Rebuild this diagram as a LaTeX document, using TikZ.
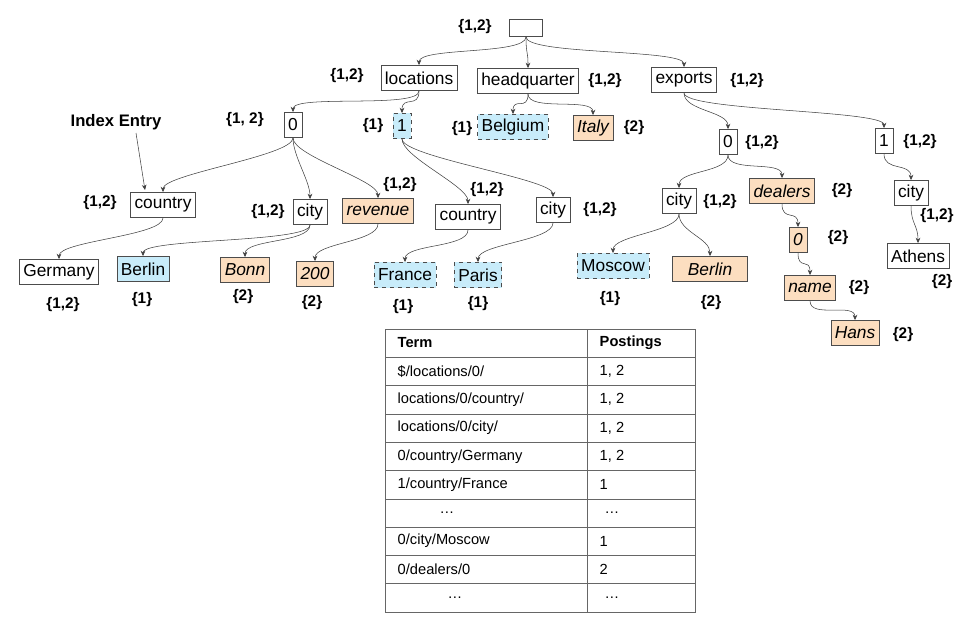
\documentclass[tikz,border=0pt]{standalone}
\usepackage{fontspec}
\setmainfont{Liberation Sans}
\usetikzlibrary{arrows.meta}
\definecolor{cy}{RGB}{200,236,250}
\definecolor{or}{RGB}{252,222,192}
\begin{document}
\begin{tikzpicture}[x=0.75pt,y=-0.75pt,
  font=\fontsize{13}{15}\selectfont,
  box/.style={draw=black!70,fill=white,inner xsep=3pt,inner ysep=2pt,minimum height=19pt,anchor=center},
  cbox/.style={box,fill=cy,dashed},
  cboxs/.style={box,fill=cy},
  obox/.style={box,fill=or,font=\fontsize{13}{15}\selectfont\itshape},
  lab/.style={font=\fontsize{11.5}{13}\selectfont\bfseries},
  cell/.style={anchor=west,font=\fontsize{11}{13}\selectfont},
  edge/.style={draw=black!75,-{Stealth[length=4pt,width=3.5pt]}}]
\useasboundingbox (0,0) rectangle (973,639);
\newcommand\cedge[2]{\draw[edge] (#1.south) .. controls +(0,18) and +(0,-18) .. (#2.north);}
% nodes
\node[box,minimum width=25pt,minimum height=13pt] (root) at (526,28) {};
\node[box] (loc) at (419,78) {locations};
\node[box] (hq) at (528,81) {headquarter};
\node[box] (exp) at (684,80) {exports};
\node[box] (l0) at (293,125) {0};
\node[cbox] (l1) at (402,126) {1};
\node[cbox] (bel) at (513,127) {Belgium};
\node[obox] (ita) at (593,128) {Italy};
\node[box] (e0) at (728,142) {0};
\node[box] (e1) at (884,141) {1};
\node[box] (c0) at (163,205) {country};
\node[box] (ci0) at (310,212) {city};
\node[obox] (rev) at (378,211) {revenue};
\node[box] (c1) at (468,217) {country};
\node[box] (ci1) at (553,210) {city};
\node[box] (cie0) at (679,201) {city};
\node[obox] (dea) at (782,191) {dealers};
\node[box] (cie1) at (911,193) {city};
\node[box] (ger) at (59,272) {Germany};
\node[cboxs] (ber) at (143,269) {Berlin};
\node[obox] (bonn) at (245,270) {Bonn};
\node[obox] (n200) at (315,274) {200};
\node[cbox] (fra) at (405,275) {France};
\node[cbox] (par) at (478,275) {Paris};
\node[cbox] (mos) at (613,266) {Moscow};
\node[obox,minimum width=56pt] (ber2) at (710,269) {Berlin};
\node[obox] (d0) at (798,240) {0};
\node[obox] (name) at (810,288) {name};
\node[obox] (hans) at (855,333) {Hans};
\node[box] (ath) at (918,256) {Athens};
% labels
\node[lab] (t1) at (475,27) {\{1,2\}};
\node[lab] (t2) at (347,76) {\{1,2\}};
\node[lab] (t3) at (605,81) {\{1,2\}};
\node[lab] (t4) at (747,81) {\{1,2\}};
\node[lab] (t5) at (245,120) {\{1, 2\}};
\node[lab] (t6) at (373,126) {\{1\}};
\node[lab] (t7) at (462,129) {\{1\}};
\node[lab] (t8) at (634,128) {\{2\}};
\node[lab] (t9) at (762,143) {\{1,2\}};
\node[lab] (t10) at (920,142) {\{1,2\}};
\node[lab] (t11) at (100,203) {\{1,2\}};
\node[lab] (t12) at (268,212) {\{1,2\}};
\node[lab] (t13) at (400,185) {\{1,2\}};
\node[lab] (t14) at (487,190) {\{1,2\}};
\node[lab] (t15) at (600,210) {\{1,2\}};
\node[lab] (t16) at (720,202) {\{1,2\}};
\node[lab] (t17) at (842,191) {\{2\}};
\node[lab] (t18) at (937,216) {\{1,2\}};
\node[lab] (t19) at (63,305) {\{1,2\}};
\node[lab] (t20) at (142,300) {\{1\}};
\node[lab] (t21) at (243,297) {\{2\}};
\node[lab] (t22) at (312,303) {\{2\}};
\node[lab] (t23) at (403,307) {\{1\}};
\node[lab] (t24) at (478,304) {\{1\}};
\node[lab] (t25) at (610,299) {\{1\}};
\node[lab] (t26) at (711,303) {\{2\}};
\node[lab] (t27) at (838,238) {\{2\}};
\node[lab] (t28) at (859,288) {\{2\}};
\node[lab] (t29) at (903,335) {\{2\}};
\node[lab] (t30) at (942,282) {\{2\}};
\node[font=\fontsize{12.5}{14}\selectfont\bfseries] (ie) at (116,122) {Index Entry};
\coordinate (iet) at (145,190);
\draw[edge] (136,133) -- (iet);
% edges
\cedge{root}{loc}\cedge{root}{hq}\cedge{root}{exp}
\cedge{loc}{l0}\cedge{loc}{l1}
\cedge{hq}{bel}\cedge{hq}{ita}
\cedge{exp}{e0}\cedge{exp}{e1}
\cedge{l0}{c0}\cedge{l0}{ci0}\cedge{l0}{rev}
\cedge{l1}{c1}\cedge{l1}{ci1}
\cedge{c0}{ger}\cedge{ci0}{ber}\cedge{ci0}{bonn}\cedge{rev}{n200}
\cedge{c1}{fra}\cedge{ci1}{par}
\cedge{e0}{cie0}\cedge{e0}{dea}
\cedge{cie0}{mos}\cedge{cie0}{ber2}
\cedge{dea}{d0}\cedge{d0}{name}\cedge{name}{hans}
\cedge{e1}{cie1}\cedge{cie1}{ath}
% table
\draw[black!60] (385,329) rectangle (695,612);
\draw[black!60] (587,329) -- (587,612);
\foreach \i in {1,...,9}{\draw[black!60] (385,{329+28.3*\i}) -- (695,{329+28.3*\i});}
\node[cell,font=\fontsize{11}{13}\selectfont\bfseries] (h1) at (393,343) {Term};
\node[cell,font=\fontsize{11}{13}\selectfont\bfseries] (h2) at (595,343) {Postings};
\node[cell] (r1) at (393,371.3) {\$/locations/0/};
\node[cell] (p1) at (595,371.3) {1, 2};
\node[cell] (r2) at (393,399.6) {locations/0/country/};
\node[cell] (p2) at (595,399.6) {1, 2};
\node[cell] (r3) at (393,427.9) {locations/0/city/};
\node[cell] (p3) at (595,427.9) {1, 2};
\node[cell] (r4) at (393,456.2) {0/country/Germany};
\node[cell] (p4) at (595,456.2) {1, 2};
\node[cell] (r5) at (393,484.5) {1/country/France};
\node[cell] (p5) at (595,484.5) {1};
\node[cell] (r6) at (435,512.8) {\dots};
\node[cell] (p6) at (600,512.8) {\dots};
\node[cell] (r7) at (393,541.1) {0/city/Moscow};
\node[cell] (p7) at (595,541.1) {1};
\node[cell] (r8) at (393,569.4) {0/dealers/0};
\node[cell] (p8) at (595,569.4) {2};
\node[cell] (r9) at (443,597.7) {\dots};
\node[cell] (p9) at (600,597.7) {\dots};
\end{tikzpicture}
\end{document}
